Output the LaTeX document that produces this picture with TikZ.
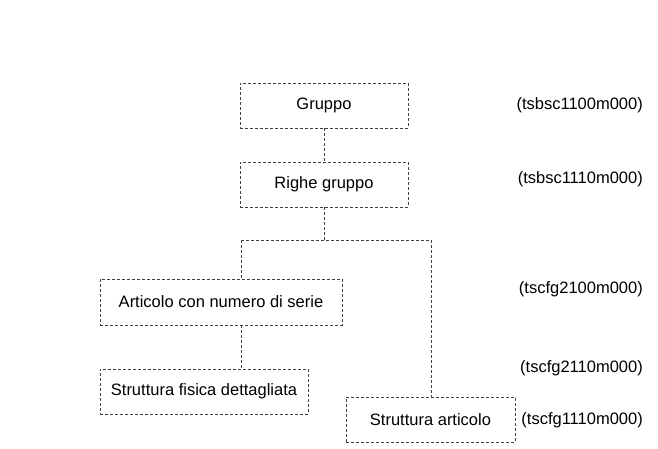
\documentclass[tikz,border=0pt]{standalone}
\usepackage{fontspec}
\setmainfont{Liberation Sans}
\begin{document}
\begin{tikzpicture}[x=1pt,y=-1pt,
  dl/.style={draw=black!75, line width=0.8pt, dash pattern=on 3pt off 2pt},
  box/.style={dl, rectangle, inner sep=0pt, font=\fontsize{16.5}{19}\selectfont},
  lbl/.style={anchor=east, inner sep=0pt, font=\fontsize{16.5}{19}\selectfont}]
\useasboundingbox (0,0) rectangle (658,449);
\node[box, minimum width=168pt, minimum height=45pt] (grp) at (324,105.5) {Gruppo};
\node[box, minimum width=168pt, minimum height=45pt] (righe) at (324,184.5) {Righe gruppo};
\node[box, minimum width=242pt, minimum height=46pt] (art) at (221,302) {Articolo con numero di serie};
\node[box, minimum width=208pt, minimum height=45pt] (fis) at (204,391.5) {Struttura fisica dettagliata};
\node[box, minimum width=169pt, minimum height=45pt] (sart) at (430.5,419.5) {Struttura articolo};
\node[lbl] (l1) at (643,105) {(tsbsc1100m000)};
\node[lbl] (l2) at (643,179) {(tsbsc1110m000)};
\node[lbl] (l3) at (643,289) {(tscfg2100m000)};
\node[lbl] (l4) at (643,368) {(tscfg2110m000)};
\node[lbl] (l5) at (643,420) {(tscfg1110m000)};
\coordinate (j) at (324,240);
\coordinate (jl) at (241,240);
\coordinate (jr) at (431,240);
\draw[dl] (grp.south) -- (righe.north);
\draw[dl] (righe.south) -- (j);
\draw[dl] (jl) -- (jr);
\draw[dl] (jl) -- (art.north -| jl);
\draw[dl] (jr) -- (sart.north -| jr);
\draw[dl] (art.south -| jl) -- (fis.north -| jl);
\end{tikzpicture}
\end{document}
